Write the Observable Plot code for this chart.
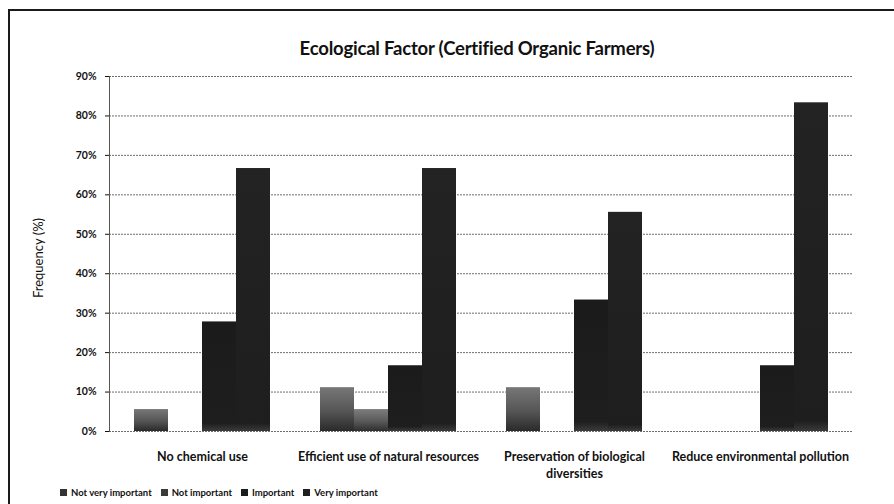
<!DOCTYPE html>
<html>
<head>
<meta charset="utf-8">
<script src="https://cdn.jsdelivr.net/npm/d3@7"></script>
<script src="https://cdn.jsdelivr.net/npm/@observablehq/plot@0.6"></script>
<style>
  body { margin: 0; background: #fff; }
  #chart { position: relative; width: 894px; height: 504px; overflow: hidden; background: #fff; font-family: Lato, "Open Sans", sans-serif; color: #111; }
  #frame { position: absolute; left: 8px; top: 9px; width: 940px; height: 540px; border: 2px solid #1a1a1a; }
  #title { position: absolute; left: 177px; width: 600px; top: 37px; text-align: center; font-weight: bold; font-size: 18.5px; line-height: 22px; letter-spacing: -0.2px; }
  #ylabel { position: absolute; left: 38px; top: 258px; transform: translate(-50%, -50%) rotate(-90deg); font-size: 13px; white-space: nowrap; }
  #plot { position: absolute; left: 0; top: 0; }
  #legend { position: absolute; left: 60px; top: 486px; display: flex; gap: 9px; font-size: 9.5px; font-weight: bold; line-height: 14px; }
  #legend span.sw { display: inline-block; width: 7px; height: 7px; margin-right: 4px; vertical-align: 0; }
</style>
</head>
<body>
<div id="chart">
  <div id="frame"></div>
  <div id="title">Ecological Factor (Certified Organic Farmers)</div>
  <div id="ylabel">Frequency (%)</div>
  <div id="plot"></div>
  <div id="legend"></div>
</div>
<script>
// Survey categories (x groups) and response levels (bars within each group)
const categories = [
  "No chemical use",
  "Efficient use of natural resources",
  "Preservation of biological diversities",
  "Reduce environmental pollution"
];
const levels = ["Not very important", "Not important", "Important", "Very important"];

// Share of farmers (%) per category, one array per response level
const notVeryImportant = [5.56, 11.11, 11.11, 0];
const notImportant = [0, 5.56, 0, 0];
const important = [27.78, 16.67, 33.33, 16.67];
const veryImportant = [66.67, 66.67, 55.56, 83.33];

const yTicks = [0, 10, 20, 30, 40, 50, 60, 70, 80, 90];

// Two-line wrap for the longer category name
const categoryLabels = {
  "Preservation of biological diversities": "Preservation of biological\ndiversities"
};

const seriesByLevel = [notVeryImportant, notImportant, important, veryImportant];
const rows = categories.flatMap((category, i) =>
  levels.map((level, j) => ({category, level, value: seriesByLevel[j][i]}))
);

const fills = ["url(#gradNVI)", "url(#gradNI)", "url(#gradI)", "url(#gradVI)"];
const swatches = ["#333", "#3a3a3a", "#1c1c1c", "#1f1f1f"];

const chart = Plot.plot({
  width: 894,
  height: 482,
  marginTop: 76,
  marginBottom: 51,
  marginLeft: 109,
  marginRight: 41,
  style: {background: "transparent", fontFamily: "Lato, 'Open Sans', sans-serif", color: "#111"},
  fx: {domain: categories, padding: 0, label: null},
  x: {domain: levels, paddingInner: 0, paddingOuter: 0.73, axis: null},
  y: {domain: [0, 90], label: null},
  color: {type: "ordinal", domain: levels, range: fills},
  marks: [
    Plot.gridY(yTicks, {stroke: "#555", strokeOpacity: 0.85, strokeDasharray: "2,1"}),
    Plot.barY(rows, {fx: "category", x: "level", y: "value", fill: "level"}),
    Plot.frame({anchor: "left", facetAnchor: "left", stroke: "#555", strokeDasharray: "2,1"}),
    Plot.axisY(yTicks, {tickSize: 4, tickPadding: 9, tickFormat: d => d + "%", fontSize: 10.5, fontWeight: "bold", label: null}),
    Plot.axisFx({anchor: "bottom", tickSize: 0, tickPadding: 18, fontSize: 12.5, fontWeight: "bold", lineHeight: 1.35,
      label: null, tickFormat: d => categoryLabels[d] ?? d})
  ]
});

// Shaded fills: greyish tops for the two "not important" series, a faint glow at the base of the others
chart.insertAdjacentHTML("afterbegin", `
  <defs>
    <linearGradient id="gradNVI" x1="0" y1="0" x2="0" y2="1">
      <stop offset="0" stop-color="#777"/><stop offset="0.55" stop-color="#555"/><stop offset="1" stop-color="#2a2a2a"/>
    </linearGradient>
    <linearGradient id="gradNI" x1="0" y1="0" x2="0" y2="1">
      <stop offset="0" stop-color="#7d7d7d"/><stop offset="0.55" stop-color="#5a5a5a"/><stop offset="1" stop-color="#2e2e2e"/>
    </linearGradient>
    <linearGradient id="gradI" x1="0" y1="0" x2="0" y2="1">
      <stop offset="0" stop-color="#1b1b1b"/><stop offset="0.93" stop-color="#1e1e1e"/><stop offset="1" stop-color="#3c3c3c"/>
    </linearGradient>
    <linearGradient id="gradVI" x1="0" y1="0" x2="0" y2="1">
      <stop offset="0" stop-color="#232323"/><stop offset="0.97" stop-color="#1e1e1e"/><stop offset="1" stop-color="#3a3a3a"/>
    </linearGradient>
  </defs>`);

document.getElementById("plot").appendChild(chart);

const legend = d3.select("#legend");
levels.forEach((level, i) => {
  const item = legend.append("div");
  item.append("span").attr("class", "sw").style("background", swatches[i]);
  item.append("span").text(level);
});
</script>
</body>
</html>
